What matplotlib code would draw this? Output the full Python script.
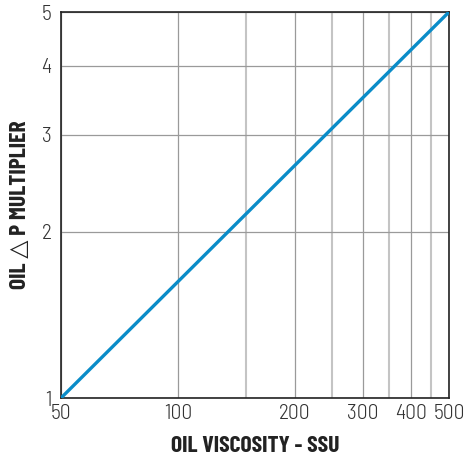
import matplotlib
matplotlib.use('Agg')
import matplotlib.pyplot as plt
from matplotlib.ticker import FixedLocator, NullFormatter

# leitura do grafico: reta em escala log-log
viscosidade = [50, 500]
multiplicador = [1, 5]

x_ticks = [50, 100, 200, 300, 400, 500]
x_minor = [150, 250, 350, 450]
y_ticks = [1, 2, 3, 4, 5]

fonte_num = ['Barlow Semi Condensed', 'DejaVu Sans']
fonte_tit = ['Barlow Condensed', 'DejaVu Sans']

fig = plt.figure(figsize=(4.65, 4.59), dpi=100)
ax = fig.add_axes([61 / 465, 61 / 459, 388 / 465, 386 / 459])

ax.set_xscale('log')
ax.set_yscale('log')
ax.set_xlim(50, 500)
ax.set_ylim(1, 5)

ax.xaxis.set_major_locator(FixedLocator(x_ticks))
ax.xaxis.set_minor_locator(FixedLocator(x_minor))
ax.xaxis.set_minor_formatter(NullFormatter())
ax.yaxis.set_major_locator(FixedLocator(y_ticks))
ax.yaxis.set_minor_locator(FixedLocator([]))
ax.yaxis.set_minor_formatter(NullFormatter())
ax.set_xticklabels([str(v) for v in x_ticks])
ax.set_yticklabels([str(v) for v in y_ticks])

ax.grid(True, which='major', color='#9a9a9a', linewidth=0.9)
ax.grid(True, which='minor', axis='x', color='#c4c4c4', linewidth=1.5)

ax.plot(viscosidade, multiplicador, color='#0a8cc8', linewidth=2.4, zorder=3)

ax.tick_params(which='both', length=0, labelsize=15.5, labelcolor='#333333')
ax.tick_params(axis='x', pad=4)
ax.tick_params(axis='y', pad=7)
for lbl in ax.get_xticklabels() + ax.get_yticklabels():
    lbl.set_family(fonte_num)
    lbl.set_fontweight(300)

for s in ax.spines.values():
    s.set_color('#222222')
    s.set_linewidth(1.2)

ax.set_xlabel('OIL VISCOSITY - SSU', family=fonte_tit, fontsize=17,
              fontweight='bold', color='#222222', labelpad=10)
ax.set_ylabel('OIL \u25b3 P MULTIPLIER', family=fonte_tit, fontsize=17,
              fontweight='bold', color='#222222', labelpad=8)

fig.savefig('out.png', dpi=100)
